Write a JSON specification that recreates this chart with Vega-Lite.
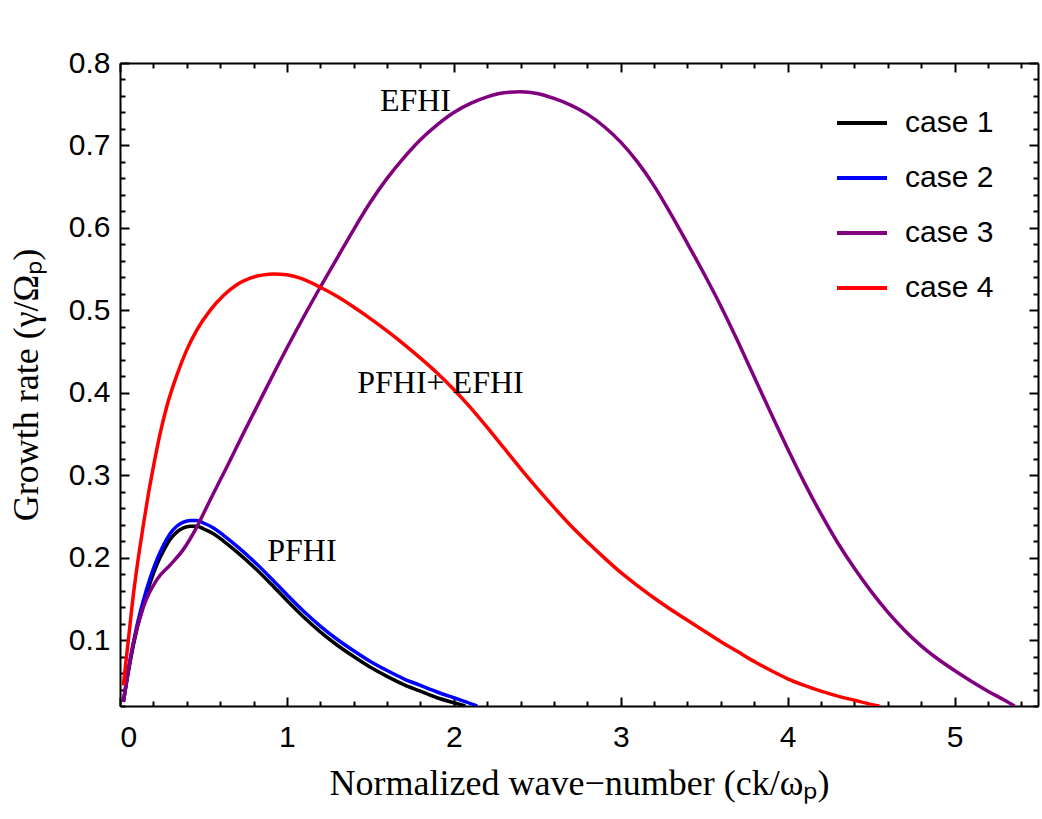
{
  "$schema": "https://vega.github.io/schema/vega-lite/v6.json",
  "width": 918,
  "height": 643,
  "autosize": {"type": "none"},
  "padding": {"left": 120, "top": 63, "right": 4, "bottom": 113},
  "background": "white",
  "config": {
    "view": {"stroke": null},
    "axis": {
      "domainColor": "black",
      "domainWidth": 2,
      "tickColor": "black",
      "tickWidth": 2,
      "grid": false,
      "labelFont": "Liberation Sans",
      "labelFontSize": 30,
      "labelColor": "black",
      "titleFont": "Liberation Serif",
      "titleFontSize": 36,
      "titleFontWeight": "normal",
      "titleColor": "black"
    }
  },
  "datasets": {
    "curves": [
      {"case": "case 1", "k": 0.02, "g": 0.025},
      {"case": "case 1", "k": 0.06, "g": 0.073},
      {"case": "case 1", "k": 0.10, "g": 0.112},
      {"case": "case 1", "k": 0.14, "g": 0.143},
      {"case": "case 1", "k": 0.18, "g": 0.169},
      {"case": "case 1", "k": 0.22, "g": 0.191},
      {"case": "case 1", "k": 0.26, "g": 0.208},
      {"case": "case 1", "k": 0.30, "g": 0.222},
      {"case": "case 1", "k": 0.34, "g": 0.231},
      {"case": "case 1", "k": 0.38, "g": 0.236},
      {"case": "case 1", "k": 0.42, "g": 0.238},
      {"case": "case 1", "k": 0.46, "g": 0.238},
      {"case": "case 1", "k": 0.50, "g": 0.235},
      {"case": "case 1", "k": 0.56, "g": 0.229},
      {"case": "case 1", "k": 0.62, "g": 0.220},
      {"case": "case 1", "k": 0.70, "g": 0.207},
      {"case": "case 1", "k": 0.80, "g": 0.189},
      {"case": "case 1", "k": 0.90, "g": 0.169},
      {"case": "case 1", "k": 1.00, "g": 0.148},
      {"case": "case 1", "k": 1.10, "g": 0.128},
      {"case": "case 1", "k": 1.20, "g": 0.110},
      {"case": "case 1", "k": 1.30, "g": 0.094},
      {"case": "case 1", "k": 1.40, "g": 0.080},
      {"case": "case 1", "k": 1.50, "g": 0.067},
      {"case": "case 1", "k": 1.60, "g": 0.056},
      {"case": "case 1", "k": 1.70, "g": 0.046},
      {"case": "case 1", "k": 1.80, "g": 0.038},
      {"case": "case 1", "k": 1.90, "g": 0.030},
      {"case": "case 1", "k": 2.00, "g": 0.024},
      {"case": "case 1", "k": 2.07, "g": 0.020},

      {"case": "case 2", "k": 0.02, "g": 0.025},
      {"case": "case 2", "k": 0.06, "g": 0.075},
      {"case": "case 2", "k": 0.10, "g": 0.116},
      {"case": "case 2", "k": 0.14, "g": 0.148},
      {"case": "case 2", "k": 0.18, "g": 0.175},
      {"case": "case 2", "k": 0.22, "g": 0.197},
      {"case": "case 2", "k": 0.26, "g": 0.215},
      {"case": "case 2", "k": 0.30, "g": 0.229},
      {"case": "case 2", "k": 0.34, "g": 0.238},
      {"case": "case 2", "k": 0.38, "g": 0.243},
      {"case": "case 2", "k": 0.42, "g": 0.245},
      {"case": "case 2", "k": 0.46, "g": 0.245},
      {"case": "case 2", "k": 0.50, "g": 0.242},
      {"case": "case 2", "k": 0.56, "g": 0.236},
      {"case": "case 2", "k": 0.62, "g": 0.227},
      {"case": "case 2", "k": 0.70, "g": 0.214},
      {"case": "case 2", "k": 0.80, "g": 0.196},
      {"case": "case 2", "k": 0.90, "g": 0.176},
      {"case": "case 2", "k": 1.00, "g": 0.155},
      {"case": "case 2", "k": 1.10, "g": 0.135},
      {"case": "case 2", "k": 1.20, "g": 0.117},
      {"case": "case 2", "k": 1.30, "g": 0.101},
      {"case": "case 2", "k": 1.40, "g": 0.087},
      {"case": "case 2", "k": 1.50, "g": 0.074},
      {"case": "case 2", "k": 1.60, "g": 0.063},
      {"case": "case 2", "k": 1.70, "g": 0.053},
      {"case": "case 2", "k": 1.80, "g": 0.045},
      {"case": "case 2", "k": 1.90, "g": 0.037},
      {"case": "case 2", "k": 2.00, "g": 0.030},
      {"case": "case 2", "k": 2.10, "g": 0.023},
      {"case": "case 2", "k": 2.14, "g": 0.020},

      {"case": "case 3", "k": 0.02, "g": 0.025},
      {"case": "case 3", "k": 0.08, "g": 0.096},
      {"case": "case 3", "k": 0.14, "g": 0.140},
      {"case": "case 3", "k": 0.22, "g": 0.173},
      {"case": "case 3", "k": 0.30, "g": 0.191},
      {"case": "case 3", "k": 0.38, "g": 0.210},
      {"case": "case 3", "k": 0.46, "g": 0.237},
      {"case": "case 3", "k": 0.54, "g": 0.270},
      {"case": "case 3", "k": 0.64, "g": 0.310},
      {"case": "case 3", "k": 0.74, "g": 0.351},
      {"case": "case 3", "k": 0.84, "g": 0.391},
      {"case": "case 3", "k": 0.94, "g": 0.431},
      {"case": "case 3", "k": 1.06, "g": 0.477},
      {"case": "case 3", "k": 1.18, "g": 0.521},
      {"case": "case 3", "k": 1.30, "g": 0.563},
      {"case": "case 3", "k": 1.40, "g": 0.598},
      {"case": "case 3", "k": 1.50, "g": 0.631},
      {"case": "case 3", "k": 1.60, "g": 0.660},
      {"case": "case 3", "k": 1.70, "g": 0.685},
      {"case": "case 3", "k": 1.80, "g": 0.707},
      {"case": "case 3", "k": 1.90, "g": 0.725},
      {"case": "case 3", "k": 2.00, "g": 0.740},
      {"case": "case 3", "k": 2.10, "g": 0.751},
      {"case": "case 3", "k": 2.20, "g": 0.759},
      {"case": "case 3", "k": 2.30, "g": 0.764},
      {"case": "case 3", "k": 2.40, "g": 0.765},
      {"case": "case 3", "k": 2.50, "g": 0.763},
      {"case": "case 3", "k": 2.60, "g": 0.757},
      {"case": "case 3", "k": 2.70, "g": 0.749},
      {"case": "case 3", "k": 2.80, "g": 0.738},
      {"case": "case 3", "k": 2.90, "g": 0.723},
      {"case": "case 3", "k": 3.00, "g": 0.704},
      {"case": "case 3", "k": 3.10, "g": 0.680},
      {"case": "case 3", "k": 3.20, "g": 0.651},
      {"case": "case 3", "k": 3.30, "g": 0.617},
      {"case": "case 3", "k": 3.40, "g": 0.581},
      {"case": "case 3", "k": 3.50, "g": 0.544},
      {"case": "case 3", "k": 3.60, "g": 0.505},
      {"case": "case 3", "k": 3.70, "g": 0.463},
      {"case": "case 3", "k": 3.80, "g": 0.419},
      {"case": "case 3", "k": 3.90, "g": 0.375},
      {"case": "case 3", "k": 4.00, "g": 0.332},
      {"case": "case 3", "k": 4.10, "g": 0.291},
      {"case": "case 3", "k": 4.20, "g": 0.253},
      {"case": "case 3", "k": 4.30, "g": 0.218},
      {"case": "case 3", "k": 4.40, "g": 0.187},
      {"case": "case 3", "k": 4.50, "g": 0.159},
      {"case": "case 3", "k": 4.60, "g": 0.134},
      {"case": "case 3", "k": 4.70, "g": 0.112},
      {"case": "case 3", "k": 4.80, "g": 0.093},
      {"case": "case 3", "k": 4.90, "g": 0.077},
      {"case": "case 3", "k": 5.00, "g": 0.063},
      {"case": "case 3", "k": 5.10, "g": 0.050},
      {"case": "case 3", "k": 5.20, "g": 0.038},
      {"case": "case 3", "k": 5.30, "g": 0.027},
      {"case": "case 3", "k": 5.36, "g": 0.020},

      {"case": "case 4", "k": 0.02, "g": 0.045},
      {"case": "case 4", "k": 0.05, "g": 0.100},
      {"case": "case 4", "k": 0.08, "g": 0.155},
      {"case": "case 4", "k": 0.11, "g": 0.200},
      {"case": "case 4", "k": 0.14, "g": 0.240},
      {"case": "case 4", "k": 0.17, "g": 0.277},
      {"case": "case 4", "k": 0.20, "g": 0.310},
      {"case": "case 4", "k": 0.24, "g": 0.350},
      {"case": "case 4", "k": 0.28, "g": 0.383},
      {"case": "case 4", "k": 0.34, "g": 0.421},
      {"case": "case 4", "k": 0.40, "g": 0.452},
      {"case": "case 4", "k": 0.46, "g": 0.476},
      {"case": "case 4", "k": 0.54, "g": 0.500},
      {"case": "case 4", "k": 0.62, "g": 0.518},
      {"case": "case 4", "k": 0.70, "g": 0.531},
      {"case": "case 4", "k": 0.78, "g": 0.539},
      {"case": "case 4", "k": 0.86, "g": 0.543},
      {"case": "case 4", "k": 0.92, "g": 0.544},
      {"case": "case 4", "k": 1.00, "g": 0.543},
      {"case": "case 4", "k": 1.08, "g": 0.539},
      {"case": "case 4", "k": 1.20, "g": 0.528},
      {"case": "case 4", "k": 1.30, "g": 0.517},
      {"case": "case 4", "k": 1.40, "g": 0.504},
      {"case": "case 4", "k": 1.50, "g": 0.490},
      {"case": "case 4", "k": 1.60, "g": 0.475},
      {"case": "case 4", "k": 1.70, "g": 0.459},
      {"case": "case 4", "k": 1.80, "g": 0.442},
      {"case": "case 4", "k": 1.90, "g": 0.424},
      {"case": "case 4", "k": 2.00, "g": 0.404},
      {"case": "case 4", "k": 2.10, "g": 0.382},
      {"case": "case 4", "k": 2.20, "g": 0.358},
      {"case": "case 4", "k": 2.30, "g": 0.333},
      {"case": "case 4", "k": 2.40, "g": 0.308},
      {"case": "case 4", "k": 2.50, "g": 0.284},
      {"case": "case 4", "k": 2.60, "g": 0.261},
      {"case": "case 4", "k": 2.70, "g": 0.239},
      {"case": "case 4", "k": 2.80, "g": 0.219},
      {"case": "case 4", "k": 2.90, "g": 0.200},
      {"case": "case 4", "k": 3.00, "g": 0.182},
      {"case": "case 4", "k": 3.10, "g": 0.166},
      {"case": "case 4", "k": 3.20, "g": 0.151},
      {"case": "case 4", "k": 3.30, "g": 0.137},
      {"case": "case 4", "k": 3.40, "g": 0.124},
      {"case": "case 4", "k": 3.50, "g": 0.111},
      {"case": "case 4", "k": 3.60, "g": 0.098},
      {"case": "case 4", "k": 3.70, "g": 0.086},
      {"case": "case 4", "k": 3.80, "g": 0.074},
      {"case": "case 4", "k": 3.90, "g": 0.063},
      {"case": "case 4", "k": 4.00, "g": 0.053},
      {"case": "case 4", "k": 4.10, "g": 0.045},
      {"case": "case 4", "k": 4.20, "g": 0.038},
      {"case": "case 4", "k": 4.30, "g": 0.032},
      {"case": "case 4", "k": 4.40, "g": 0.027},
      {"case": "case 4", "k": 4.50, "g": 0.022},
      {"case": "case 4", "k": 4.55, "g": 0.020}
    ],
    "notes": [
      {"label": "EFHI", "k": 1.77, "g": 0.754},
      {"label": "PFHI+ EFHI", "k": 1.92, "g": 0.412},
      {"label": "PFHI", "k": 1.09, "g": 0.208}
    ]
  },
  "layer": [
    {
      "data": {"name": "curves"},
      "mark": {"type": "line", "strokeWidth": 3.5, "interpolate": "monotone", "clip": true},
      "encoding": {
        "x": {
          "field": "k", "type": "quantitative",
          "scale": {"domain": [0, 5.5], "nice": false, "zero": false},
          "axis": {
            "orient": "bottom",
            "title": "Normalized wave−number (ck/ωₚ)",
            "titlePadding": 10,
            "values": [0, 0.2, 0.4, 0.6, 0.8, 1, 1.2, 1.4, 1.6, 1.8, 2, 2.2, 2.4, 2.6, 2.8, 3, 3.2, 3.4, 3.6, 3.8, 4, 4.2, 4.4, 4.6, 4.8, 5, 5.2, 5.4],
            "labelExpr": "abs(datum.value - round(datum.value)) < 0.001 ? format(datum.value, 'd') : ''",
            "labelPadding": 25,
            "labelOverlap": false,
            "tickSize": {"condition": {"test": "abs(datum.value - round(datum.value)) < 0.001", "value": -9}, "value": -5}
          }
        },
        "y": {
          "field": "g", "type": "quantitative",
          "scale": {"domain": [0.02, 0.8], "nice": false, "zero": false},
          "axis": {
            "orient": "left",
            "title": "Growth rate (γ/Ωₚ)",
            "titlePadding": 23,
            "values": [0.02, 0.04, 0.06, 0.08, 0.1, 0.12, 0.14, 0.16, 0.18, 0.2, 0.22, 0.24, 0.26, 0.28, 0.3, 0.32, 0.34, 0.36, 0.38, 0.4, 0.42, 0.44, 0.46, 0.48, 0.5, 0.52, 0.54, 0.56, 0.58, 0.6, 0.62, 0.64, 0.66, 0.68, 0.7, 0.72, 0.74, 0.76, 0.78, 0.8],
            "labelExpr": "abs(datum.value * 10 - round(datum.value * 10)) < 0.001 ? format(datum.value, '.1f') : ''",
            "labelPadding": 19,
            "labelOverlap": false,
            "tickSize": {"condition": {"test": "abs(datum.value * 10 - round(datum.value * 10)) < 0.001", "value": -9}, "value": -5}
          }
        },
        "color": {
          "field": "case", "type": "nominal",
          "scale": {"domain": ["case 1", "case 2", "case 3", "case 4"], "range": ["#000000", "#0000ff", "#800080", "#ff0000"]},
          "legend": {
            "title": null,
            "orient": "none",
            "legendX": 715,
            "legendY": 33,
            "symbolType": "stroke",
            "symbolSize": 2500,
            "symbolStrokeWidth": 4,
            "labelFont": "Liberation Sans",
            "labelFontSize": 30,
            "labelColor": "black",
            "labelOffset": 16,
            "rowPadding": 13
          }
        }
      }
    },
    {
      "data": {"name": "curves"},
      "mark": {"type": "line", "opacity": 0},
      "encoding": {
        "x": {
          "field": "k", "type": "quantitative",
          "axis": {
            "orient": "top", "title": null, "labels": false,
            "values": [0, 0.2, 0.4, 0.6, 0.8, 1, 1.2, 1.4, 1.6, 1.8, 2, 2.2, 2.4, 2.6, 2.8, 3, 3.2, 3.4, 3.6, 3.8, 4, 4.2, 4.4, 4.6, 4.8, 5, 5.2, 5.4],
            "tickSize": {"condition": {"test": "abs(datum.value - round(datum.value)) < 0.001", "value": -9}, "value": -5}
          }
        },
        "y": {
          "field": "g", "type": "quantitative",
          "axis": {
            "orient": "right", "title": null, "labels": false,
            "values": [0.02, 0.04, 0.06, 0.08, 0.1, 0.12, 0.14, 0.16, 0.18, 0.2, 0.22, 0.24, 0.26, 0.28, 0.3, 0.32, 0.34, 0.36, 0.38, 0.4, 0.42, 0.44, 0.46, 0.48, 0.5, 0.52, 0.54, 0.56, 0.58, 0.6, 0.62, 0.64, 0.66, 0.68, 0.7, 0.72, 0.74, 0.76, 0.78, 0.8],
            "tickSize": {"condition": {"test": "abs(datum.value * 10 - round(datum.value * 10)) < 0.001", "value": -9}, "value": -5}
          }
        }
      }
    },
    {
      "data": {"name": "notes"},
      "mark": {"type": "text", "font": "Liberation Serif", "fontSize": 32, "color": "black"},
      "encoding": {
        "x": {"field": "k", "type": "quantitative", "axis": null},
        "y": {"field": "g", "type": "quantitative", "axis": null},
        "text": {"field": "label"}
      }
    }
  ],
  "resolve": {"axis": {"x": "independent", "y": "independent"}}
}
